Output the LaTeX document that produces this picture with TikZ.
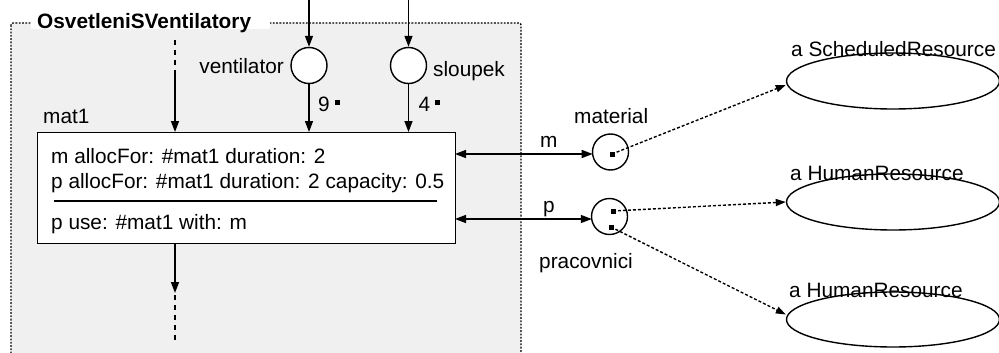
\documentclass[tikz,border=0pt]{standalone}
\usepackage{fontspec}
\setmainfont{Liberation Sans}
\usetikzlibrary{arrows.meta,shapes.geometric,calc}
\definecolor{boxgray}{RGB}{240,240,240}
\begin{document}
\begin{tikzpicture}[x=1pt,y=-1pt,
  font=\fontsize{20.8}{24}\selectfont,
  lw/.style={line width=1.4pt},
  arr/.style={lw,-{Triangle[length=11pt,width=8pt]}},
  darr/.style={lw,{Triangle[length=11pt,width=8pt]}-{Triangle[length=11pt,width=8pt]}},
  dotarr/.style={lw,dash pattern=on 3pt off 2pt,-{Triangle[length=10pt,width=7pt]}},
  port/.style={circle,draw,lw,fill=white,minimum size=36pt,inner sep=0pt},
  res/.style={ellipse,draw,lw,minimum width=213pt,minimum height=56pt,inner sep=0pt},
  dotsq/.style={fill=black,minimum size=5pt,inner sep=0pt},
  txt/.style={anchor=base west,inner sep=0pt},
  dashline/.style={lw,dash pattern=on 5pt off 5pt}]
\useasboundingbox (0,0) rectangle (999,353);
\clip (0,0) rectangle (999,353);
% container
\draw[fill=boxgray,line width=1.3pt,dash pattern=on 1.8pt off 1.5pt,rounded corners=2pt] (11,23) rectangle (521,365);
\fill[white] (31,8) rectangle (270,29.5);
\node[txt,font=\fontsize{20.8}{24}\selectfont\bfseries] (title) at (37,29) {OsvetleniSVentilatory};
% main box
\node[draw,lw,fill=white,minimum width=418pt,minimum height=111pt,inner sep=0pt,anchor=north west] (main) at (37,132) {};
\node[txt] (mat1) at (43,123) {mat1};
\node[txt] (l1) at (51,163) {m allocFor: \#mat1 duration: 2};
\node[txt] (l2) at (51,188) {p allocFor: \#mat1 duration: 2 capacity: 0.5};
\node[txt] (l3) at (51,229) {p use: \#mat1 with: m};
\draw[lw] (54,201) coordinate (sepA) -- (437,201) coordinate (sepB);
% ports
\node[port] (vent) at (309,65.5) {};
\node[port] (slou) at (408.5,65.5) {};
\node[anchor=base east,inner sep=0pt] (ventl) at (284,74) {ventilator};
\node[txt] (seoul) at (433,77) {sloupek};
\node[txt] (n9) at (318,111) {9};
\node[dotsq] (s9) at (337.5,102.5) {};
\node[txt] (n4) at (418.5,111) {4};
\node[dotsq] (s4) at (437.5,102.5) {};
\coordinate (vtop) at (309,-2);
\coordinate (stop) at (408.5,-2);
\draw[arr] (vtop) -- (vent.north);
\draw[arr] (stop) -- (slou.north);
\draw[arr] (vent.south) -- (vent.south |- main.north);
\draw[arr] (slou.south) -- (slou.south |- main.north);
% left in / out
\coordinate (inA) at (175,40);
\coordinate (inB) at (175,72);
\draw[dashline] (inA) -- (inB);
\draw[arr] (inB) -- (inB |- main.north);
\coordinate (outA) at (175,293);
\coordinate (outB) at (175,340);
\draw[arr] (outA |- main.south) -- (outA);
\draw[dashline] (outA) ++(0,2) -- (outB);
% material / pracovnici
\node[port] (mat) at (610.5,152) {};
\node[port] (prac) at (609.5,216.5) {};
\node[txt] (matl) at (574,124) {material};
\node[txt] (pracl) at (539,268) {pracovnici};
\node[txt] (ml) at (540,147) {m};
\node[txt] (pl) at (543,212.5) {p};
\coordinate (mA) at (455,154);
\coordinate (mB) at (592.7,154);
\coordinate (pA) at (455,219);
\coordinate (pB) at (591.8,219);
\draw[darr] (mA) -- (mB);
\draw[darr] (pA) -- (pB);
\node[dotsq] (md) at (612,154) {};
\node[dotsq] (pd1) at (613,211) {};
\node[dotsq] (pd2) at (611,227) {};
% resources
\node[res] (sr) at (893,81) {};
\node[res] (hr1) at (893,202) {};
\node[res,minimum height=55pt] (hr2) at (893,319.5) {};
\node[txt] (srl) at (791,57) {a ScheduledResource};
\node[txt] (hr1l) at (790,180) {a HumanResource};
\node[txt] (hr2l) at (789,297) {a HumanResource};
\draw[dotarr] (md.center) -- ([yshift=-4pt]sr.west);
\draw[dotarr] (pd1.center) -- (hr1.west);
\draw[dotarr] (pd2.center) -- ([yshift=5pt]hr2.west);
\end{tikzpicture}
\end{document}
